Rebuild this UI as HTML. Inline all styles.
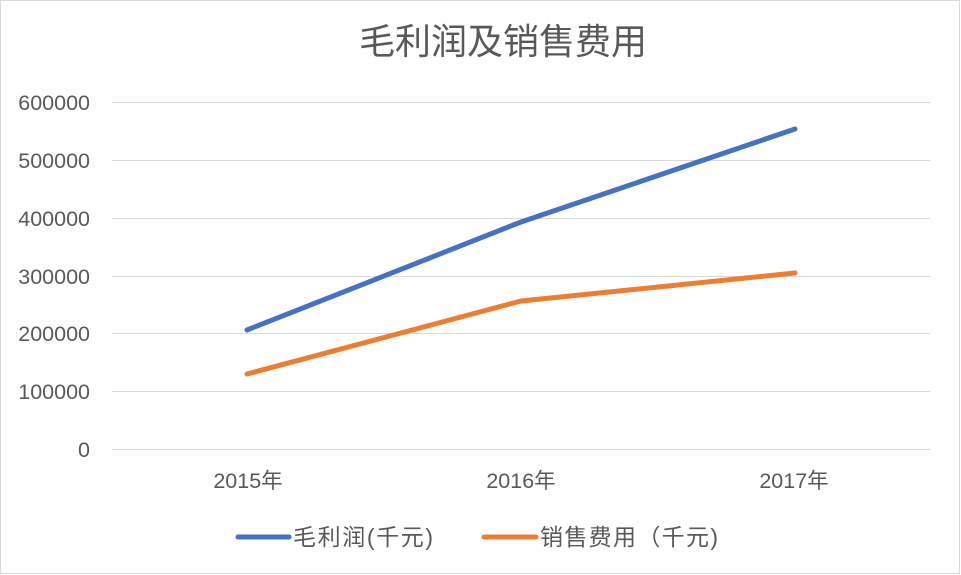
<!DOCTYPE html>
<html><head><meta charset="utf-8"><style>
html,body{margin:0;padding:0;background:#fff;}
svg{display:block;}
text{font-family:"Liberation Sans","Noto Sans CJK SC",sans-serif;fill:#595959;}
</style></head><body>
<svg width="961" height="575" viewBox="0 0 961 575">
<rect x="0.5" y="0.5" width="959" height="573" fill="#fff" stroke="#d9d9d9"/>
<text x="503" y="54" font-size="36" text-anchor="middle">毛利润及销售费用</text>
<g stroke="#d9d9d9" stroke-width="1">
<line x1="112" x2="930" y1="102.5" y2="102.5"/>
<line x1="112" x2="930" y1="160.5" y2="160.5"/>
<line x1="112" x2="930" y1="218.5" y2="218.5"/>
<line x1="112" x2="930" y1="276.5" y2="276.5"/>
<line x1="112" x2="930" y1="333.5" y2="333.5"/>
<line x1="112" x2="930" y1="391.5" y2="391.5"/>
<line x1="112" x2="930" y1="449.5" y2="449.5"/>
</g>
<g font-size="21.5" text-anchor="end">
<text x="90" y="110">600000</text>
<text x="90" y="168">500000</text>
<text x="90" y="226">400000</text>
<text x="90" y="284">300000</text>
<text x="90" y="341">200000</text>
<text x="90" y="399">100000</text>
<text x="90" y="457">0</text>
</g>
<g font-size="21.5" text-anchor="middle">
<text x="248" y="488">2015年</text>
<text x="521" y="488">2016年</text>
<text x="794" y="488">2017年</text>
</g>
<polyline points="247,330 521,222 795,129" fill="none" stroke="#4472c4" stroke-width="5" stroke-linecap="round" stroke-linejoin="round"/>
<polyline points="247,374 521,301 795,273" fill="none" stroke="#ed7d31" stroke-width="5" stroke-linecap="round" stroke-linejoin="round"/>
<line x1="238" x2="289" y1="537" y2="537" stroke="#4472c4" stroke-width="5" stroke-linecap="round"/>
<text x="293" y="545" font-size="23" textLength="140">毛利润(千元)</text>
<line x1="484" x2="536" y1="537" y2="537" stroke="#ed7d31" stroke-width="5" stroke-linecap="round"/>
<text x="540" y="545" font-size="23" textLength="178">销售费用（千元)</text>
</svg>
</body></html>
